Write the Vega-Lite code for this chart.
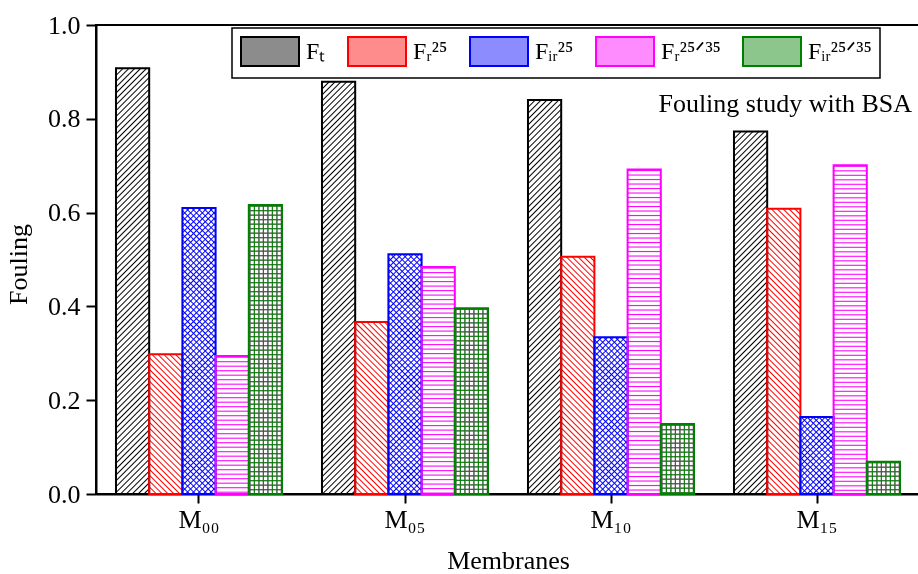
{
  "$schema": "https://vega.github.io/schema/vega-lite/v6.json",
  "width": 824,
  "height": 469,
  "autosize": "none",
  "padding": {"left": 96, "top": 25, "right": 0, "bottom": 80},
  "background": "white",
  "params": [
    {"name": "hatch", "value": [
      {"offset":0,"color":"transparent"},{"offset":0.003,"color":"#000"},{"offset":0.006,"color":"transparent"},
      {"offset":0.0125,"color":"transparent"},{"offset":0.0155,"color":"#000"},{"offset":0.0185,"color":"transparent"},
      {"offset":0.025,"color":"transparent"},{"offset":0.028,"color":"#000"},{"offset":0.031,"color":"transparent"},
      {"offset":0.0375,"color":"transparent"},{"offset":0.0405,"color":"#000"},{"offset":0.0435,"color":"transparent"},
      {"offset":0.05,"color":"transparent"},{"offset":0.053,"color":"#000"},{"offset":0.056,"color":"transparent"},
      {"offset":0.0625,"color":"transparent"},{"offset":0.0655,"color":"#000"},{"offset":0.0685,"color":"transparent"},
      {"offset":0.075,"color":"transparent"},{"offset":0.078,"color":"#000"},{"offset":0.081,"color":"transparent"},
      {"offset":0.0875,"color":"transparent"},{"offset":0.0905,"color":"#000"},{"offset":0.0935,"color":"transparent"},
      {"offset":0.1,"color":"transparent"},{"offset":0.103,"color":"#000"},{"offset":0.106,"color":"transparent"},
      {"offset":0.1125,"color":"transparent"},{"offset":0.1155,"color":"#000"},{"offset":0.1185,"color":"transparent"},
      {"offset":0.125,"color":"transparent"},{"offset":0.128,"color":"#000"},{"offset":0.131,"color":"transparent"},
      {"offset":0.1375,"color":"transparent"},{"offset":0.1405,"color":"#000"},{"offset":0.1435,"color":"transparent"},
      {"offset":0.15,"color":"transparent"},{"offset":0.153,"color":"#000"},{"offset":0.156,"color":"transparent"},
      {"offset":0.1625,"color":"transparent"},{"offset":0.1655,"color":"#000"},{"offset":0.1685,"color":"transparent"},
      {"offset":0.175,"color":"transparent"},{"offset":0.178,"color":"#000"},{"offset":0.181,"color":"transparent"},
      {"offset":0.1875,"color":"transparent"},{"offset":0.1905,"color":"#000"},{"offset":0.1935,"color":"transparent"},
      {"offset":0.2,"color":"transparent"},{"offset":0.203,"color":"#000"},{"offset":0.206,"color":"transparent"},
      {"offset":0.2125,"color":"transparent"},{"offset":0.2155,"color":"#000"},{"offset":0.2185,"color":"transparent"},
      {"offset":0.225,"color":"transparent"},{"offset":0.228,"color":"#000"},{"offset":0.231,"color":"transparent"},
      {"offset":0.2375,"color":"transparent"},{"offset":0.2405,"color":"#000"},{"offset":0.2435,"color":"transparent"},
      {"offset":0.25,"color":"transparent"},{"offset":0.253,"color":"#000"},{"offset":0.256,"color":"transparent"},
      {"offset":0.2625,"color":"transparent"},{"offset":0.2655,"color":"#000"},{"offset":0.2685,"color":"transparent"},
      {"offset":0.275,"color":"transparent"},{"offset":0.278,"color":"#000"},{"offset":0.281,"color":"transparent"},
      {"offset":0.2875,"color":"transparent"},{"offset":0.2905,"color":"#000"},{"offset":0.2935,"color":"transparent"},
      {"offset":0.3,"color":"transparent"},{"offset":0.303,"color":"#000"},{"offset":0.306,"color":"transparent"},
      {"offset":0.3125,"color":"transparent"},{"offset":0.3155,"color":"#000"},{"offset":0.3185,"color":"transparent"},
      {"offset":0.325,"color":"transparent"},{"offset":0.328,"color":"#000"},{"offset":0.331,"color":"transparent"},
      {"offset":0.3375,"color":"transparent"},{"offset":0.3405,"color":"#000"},{"offset":0.3435,"color":"transparent"},
      {"offset":0.35,"color":"transparent"},{"offset":0.353,"color":"#000"},{"offset":0.356,"color":"transparent"},
      {"offset":0.3625,"color":"transparent"},{"offset":0.3655,"color":"#000"},{"offset":0.3685,"color":"transparent"},
      {"offset":0.375,"color":"transparent"},{"offset":0.378,"color":"#000"},{"offset":0.381,"color":"transparent"},
      {"offset":0.3875,"color":"transparent"},{"offset":0.3905,"color":"#000"},{"offset":0.3935,"color":"transparent"},
      {"offset":0.4,"color":"transparent"},{"offset":0.403,"color":"#000"},{"offset":0.406,"color":"transparent"},
      {"offset":0.4125,"color":"transparent"},{"offset":0.4155,"color":"#000"},{"offset":0.4185,"color":"transparent"},
      {"offset":0.425,"color":"transparent"},{"offset":0.428,"color":"#000"},{"offset":0.431,"color":"transparent"},
      {"offset":0.4375,"color":"transparent"},{"offset":0.4405,"color":"#000"},{"offset":0.4435,"color":"transparent"},
      {"offset":0.45,"color":"transparent"},{"offset":0.453,"color":"#000"},{"offset":0.456,"color":"transparent"},
      {"offset":0.4625,"color":"transparent"},{"offset":0.4655,"color":"#000"},{"offset":0.4685,"color":"transparent"},
      {"offset":0.475,"color":"transparent"},{"offset":0.478,"color":"#000"},{"offset":0.481,"color":"transparent"},
      {"offset":0.4875,"color":"transparent"},{"offset":0.4905,"color":"#000"},{"offset":0.4935,"color":"transparent"},
      {"offset":0.5,"color":"transparent"},{"offset":0.503,"color":"#000"},{"offset":0.506,"color":"transparent"},
      {"offset":0.5125,"color":"transparent"},{"offset":0.5155,"color":"#000"},{"offset":0.5185,"color":"transparent"},
      {"offset":0.525,"color":"transparent"},{"offset":0.528,"color":"#000"},{"offset":0.531,"color":"transparent"},
      {"offset":0.5375,"color":"transparent"},{"offset":0.5405,"color":"#000"},{"offset":0.5435,"color":"transparent"},
      {"offset":0.55,"color":"transparent"},{"offset":0.553,"color":"#000"},{"offset":0.556,"color":"transparent"},
      {"offset":0.5625,"color":"transparent"},{"offset":0.5655,"color":"#000"},{"offset":0.5685,"color":"transparent"},
      {"offset":0.575,"color":"transparent"},{"offset":0.578,"color":"#000"},{"offset":0.581,"color":"transparent"},
      {"offset":0.5875,"color":"transparent"},{"offset":0.5905,"color":"#000"},{"offset":0.5935,"color":"transparent"},
      {"offset":0.6,"color":"transparent"},{"offset":0.603,"color":"#000"},{"offset":0.606,"color":"transparent"},
      {"offset":0.6125,"color":"transparent"},{"offset":0.6155,"color":"#000"},{"offset":0.6185,"color":"transparent"},
      {"offset":0.625,"color":"transparent"},{"offset":0.628,"color":"#000"},{"offset":0.631,"color":"transparent"},
      {"offset":0.6375,"color":"transparent"},{"offset":0.6405,"color":"#000"},{"offset":0.6435,"color":"transparent"},
      {"offset":0.65,"color":"transparent"},{"offset":0.653,"color":"#000"},{"offset":0.656,"color":"transparent"},
      {"offset":0.6625,"color":"transparent"},{"offset":0.6655,"color":"#000"},{"offset":0.6685,"color":"transparent"},
      {"offset":0.675,"color":"transparent"},{"offset":0.678,"color":"#000"},{"offset":0.681,"color":"transparent"},
      {"offset":0.6875,"color":"transparent"},{"offset":0.6905,"color":"#000"},{"offset":0.6935,"color":"transparent"},
      {"offset":0.7,"color":"transparent"},{"offset":0.703,"color":"#000"},{"offset":0.706,"color":"transparent"},
      {"offset":0.7125,"color":"transparent"},{"offset":0.7155,"color":"#000"},{"offset":0.7185,"color":"transparent"},
      {"offset":0.725,"color":"transparent"},{"offset":0.728,"color":"#000"},{"offset":0.731,"color":"transparent"},
      {"offset":0.7375,"color":"transparent"},{"offset":0.7405,"color":"#000"},{"offset":0.7435,"color":"transparent"},
      {"offset":0.75,"color":"transparent"},{"offset":0.753,"color":"#000"},{"offset":0.756,"color":"transparent"},
      {"offset":0.7625,"color":"transparent"},{"offset":0.7655,"color":"#000"},{"offset":0.7685,"color":"transparent"},
      {"offset":0.775,"color":"transparent"},{"offset":0.778,"color":"#000"},{"offset":0.781,"color":"transparent"},
      {"offset":0.7875,"color":"transparent"},{"offset":0.7905,"color":"#000"},{"offset":0.7935,"color":"transparent"},
      {"offset":0.8,"color":"transparent"},{"offset":0.803,"color":"#000"},{"offset":0.806,"color":"transparent"},
      {"offset":0.8125,"color":"transparent"},{"offset":0.8155,"color":"#000"},{"offset":0.8185,"color":"transparent"},
      {"offset":0.825,"color":"transparent"},{"offset":0.828,"color":"#000"},{"offset":0.831,"color":"transparent"},
      {"offset":0.8375,"color":"transparent"},{"offset":0.8405,"color":"#000"},{"offset":0.8435,"color":"transparent"},
      {"offset":0.85,"color":"transparent"},{"offset":0.853,"color":"#000"},{"offset":0.856,"color":"transparent"},
      {"offset":0.8625,"color":"transparent"},{"offset":0.8655,"color":"#000"},{"offset":0.8685,"color":"transparent"},
      {"offset":0.875,"color":"transparent"},{"offset":0.878,"color":"#000"},{"offset":0.881,"color":"transparent"},
      {"offset":0.8875,"color":"transparent"},{"offset":0.8905,"color":"#000"},{"offset":0.8935,"color":"transparent"},
      {"offset":0.9,"color":"transparent"},{"offset":0.903,"color":"#000"},{"offset":0.906,"color":"transparent"},
      {"offset":0.9125,"color":"transparent"},{"offset":0.9155,"color":"#000"},{"offset":0.9185,"color":"transparent"},
      {"offset":0.925,"color":"transparent"},{"offset":0.928,"color":"#000"},{"offset":0.931,"color":"transparent"},
      {"offset":0.9375,"color":"transparent"},{"offset":0.9405,"color":"#000"},{"offset":0.9435,"color":"transparent"},
      {"offset":0.95,"color":"transparent"},{"offset":0.953,"color":"#000"},{"offset":0.956,"color":"transparent"},
      {"offset":0.9625,"color":"transparent"},{"offset":0.9655,"color":"#000"},{"offset":0.9685,"color":"transparent"},
      {"offset":0.975,"color":"transparent"},{"offset":0.978,"color":"#000"},{"offset":0.981,"color":"transparent"},
      {"offset":0.9875,"color":"transparent"},{"offset":0.9905,"color":"#000"},{"offset":0.9935,"color":"transparent"},
      {"offset":1,"color":"transparent"}
    ]}
  ],
  "config": {
    "view": {"stroke": "black", "strokeWidth": 2},
    "axis": {
      "labelFont": "Liberation Serif", "titleFont": "Liberation Serif",
      "labelFontSize": 26, "titleFontSize": 26, "titleFontWeight": "normal",
      "labelColor": "black", "titleColor": "black",
      "domainColor": "black", "domainWidth": 2, "tickColor": "black", "tickWidth": 2,
      "grid": false
    }
  },
  "layer": [
    {
      "data": {"values": [
        {"m": "M₀₀", "s": "Ft", "v": 0.908},
        {"m": "M₀₀", "s": "Fr25", "v": 0.298},
        {"m": "M₀₀", "s": "Fir25", "v": 0.610},
        {"m": "M₀₀", "s": "Fr2535", "v": 0.294},
        {"m": "M₀₀", "s": "Fir2535", "v": 0.616},
        {"m": "M₀₅", "s": "Ft", "v": 0.879},
        {"m": "M₀₅", "s": "Fr25", "v": 0.367},
        {"m": "M₀₅", "s": "Fir25", "v": 0.511},
        {"m": "M₀₅", "s": "Fr2535", "v": 0.484},
        {"m": "M₀₅", "s": "Fir2535", "v": 0.396},
        {"m": "M₁₀", "s": "Ft", "v": 0.840},
        {"m": "M₁₀", "s": "Fr25", "v": 0.506},
        {"m": "M₁₀", "s": "Fir25", "v": 0.334},
        {"m": "M₁₀", "s": "Fr2535", "v": 0.692},
        {"m": "M₁₀", "s": "Fir2535", "v": 0.149},
        {"m": "M₁₅", "s": "Ft", "v": 0.773},
        {"m": "M₁₅", "s": "Fr25", "v": 0.608},
        {"m": "M₁₅", "s": "Fir25", "v": 0.164},
        {"m": "M₁₅", "s": "Fr2535", "v": 0.701},
        {"m": "M₁₅", "s": "Fir2535", "v": 0.069}
      ]},
      "encoding": {
        "x": {"field": "m", "type": "nominal", "sort": null,
              "scale": {"domain": ["M₀₀", "M₀₅", "M₁₀", "M₁₅"], "paddingInner": 0.194, "paddingOuter": 0.097},
              "axis": {"labelAngle": 0, "tickSize": 9, "labelPadding": 3, "titlePadding": 15},
              "title": "Membranes"},
        "xOffset": {"field": "s", "type": "nominal",
                    "scale": {"domain": ["Ft", "Fr25", "Fir25", "Fr2535", "Fir2535"], "paddingInner": 0, "paddingOuter": 0}},
        "y": {"field": "v", "type": "quantitative",
              "scale": {"domain": [0, 1], "nice": false},
              "axis": {"values": [0, 0.2, 0.4, 0.6, 0.8, 1], "format": ".1f", "tickSize": 10, "labelPadding": 6, "titlePadding": 16, "titleY": 239},
              "title": "Fouling"}
      },
      "layer": [
        {"mark": {"type": "bar", "fill": "white"}},
        {"transform": [{"filter": "datum.s === 'Ft' || datum.s === 'Fir25'"}],
         "mark": {"type": "bar", "fill": {"expr": "{'gradient':'linear','x1':0,'y1':0,'x2':470*bandwidth('xOffset')/(pow(bandwidth('xOffset'),2)+pow(datum.v*height,2)),'y2':470*datum.v*height/(pow(bandwidth('xOffset'),2)+pow(datum.v*height,2)),'stops':hatch}"}}},
        {"transform": [{"filter": "datum.s === 'Fr25' || datum.s === 'Fir25'"}],
         "mark": {"type": "bar", "fill": {"expr": "{'gradient':'linear','x1':0,'y1':1,'x2':470*bandwidth('xOffset')/(pow(bandwidth('xOffset'),2)+pow(datum.v*height,2)),'y2':1-470*datum.v*height/(pow(bandwidth('xOffset'),2)+pow(datum.v*height,2)),'stops':hatch}"}}},
        {"transform": [{"filter": "datum.s === 'Fr2535' || datum.s === 'Fir2535'"}],
         "mark": {"type": "bar", "fill": {"expr": "{'gradient':'linear','x1':0,'y1':0,'x2':0,'y2':360/(datum.v*height),'stops':hatch}"}}},
        {"transform": [{"filter": "datum.s === 'Fir2535'"}],
         "mark": {"type": "bar", "fill": {"expr": "{'gradient':'linear','x1':0,'y1':0,'x2':360/bandwidth('xOffset'),'y2':0,'stops':hatch}"}}},
        {"mark": {"type": "bar", "blend": "lighten"},
         "encoding": {
           "color": {"field": "s", "type": "nominal",
             "scale": {"domain": ["Ft", "Fr25", "Fir25", "Fr2535", "Fir2535"], "range": ["#000000", "#ff0000", "#0000ff", "#ff00ff", "#008000"]},
             "legend": {
               "title": null, "orient": "none", "legendX": 136, "legendY": 3, "direction": "horizontal",
               "symbolType": "M-1,-1H3V1H-1Z", "symbolSize": 841,
               "labelFont": "Liberation Serif", "labelFontSize": 24, "labelColor": "black", "labelOffset": 35,
               "columnPadding": 18, "padding": 8, "strokeColor": "black", "fillColor": "white",
               "labelExpr": "datum.value === 'Ft' ? 'Fₜ' : datum.value === 'Fr25' ? 'Fᵣ²⁵' : datum.value === 'Fir25' ? 'Fᵢᵣ²⁵' : datum.value === 'Fr2535' ? 'Fᵣ²⁵ᐟ³⁵' : 'Fᵢᵣ²⁵ᐟ³⁵'",
               "encode": {
                 "legend": {"update": {"strokeWidth": {"value": 1.5}}},
                 "symbols": {"update": {
                   "fillOpacity": {"value": 0.45},
                   "stroke": {"scale": "color", "field": "value"},
                   "strokeWidth": {"value": 2}
                 }}
               }
             }}
         }},
        {"mark": {"type": "bar", "filled": false, "strokeWidth": 2},
         "encoding": {
           "color": {"field": "s", "type": "nominal",
             "scale": {"domain": ["Ft", "Fr25", "Fir25", "Fr2535", "Fir2535"], "range": ["#000000", "#ff0000", "#0000ff", "#ff00ff", "#008000"]}}
         }}
      ]
    },
    {
      "data": {"values": [{"note": "Fouling study with BSA"}]},
      "mark": {"type": "text", "align": "right", "baseline": "alphabetic", "dx": 95, "font": "Liberation Serif", "fontSize": 26, "color": "black"},
      "encoding": {
        "x": {"datum": "M₁₅"},
        "y": {"datum": 0.814},
        "text": {"field": "note"}
      }
    }
  ]
}
